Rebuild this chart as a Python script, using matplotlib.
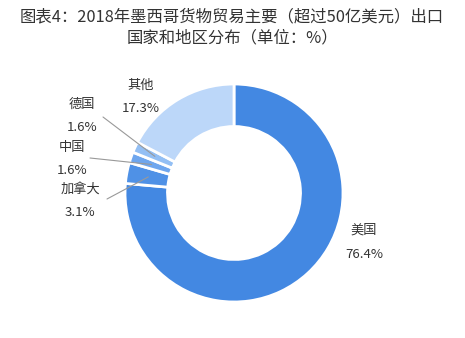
import numpy as np
import matplotlib.pyplot as plt

plt.rcParams['font.family'] = ['Noto Sans CJK SC', 'DejaVu Sans']

# data
regions = ['美国', '加拿大', '中国', '德国', '其他']
shares = [76.4, 3.1, 1.6, 1.6, 17.3]
colors = ['#4388e2', '#4f91e6', '#6ea6ee', '#93bff4', '#bcd7f9']
title_lines = ['图表4：2018年墨西哥货物贸易主要（超过50亿美元）出口',
               '国家和地区分布（单位：%）']

W, H = 465, 338
fig = plt.figure(figsize=(W / 100, H / 100), dpi=100)

# donut axes: centre (234, 193) px, radius 109 px
cx, cy, r = 234, 193, 109
ax = fig.add_axes([(cx - r) / W, (H - cy - r) / H, 2 * r / W, 2 * r / H])
wedges, _ = ax.pie(shares, colors=colors, startangle=90, counterclock=False,
                   radius=1, wedgeprops=dict(width=0.39, edgecolor='white', linewidth=2))
ax.set_xlim(-1, 1)
ax.set_ylim(-1, 1)
ax.axis('off')

to_fig = lambda x, y: (x / W, 1 - y / H)

for line, y in zip(title_lines, [17, 38]):
    fig.text(*to_fig(232, y), line, ha='center', va='center', fontsize=11.8, color='#333333')

# label positions (pixel, top-left origin): name, value
label_pos = {
    '美国': (364, 230),
    '加拿大': (80, 189),
    '中国': (72, 147),
    '德国': (82, 104),
    '其他': (141, 85),
}
# leader line starts (pixel)
leader_start = {
    '加拿大': (107, 199),
    '中国': (90, 158),
    '德国': (103, 117),
}

for w, name, val in zip(wedges, regions, shares):
    lx, ly = label_pos[name]
    fig.text(*to_fig(lx, ly), name, ha='center', va='center', fontsize=9.5, color='#333333')
    fig.text(*to_fig(lx, ly + 24), f'{val}%', ha='center', va='center', fontsize=9.5, color='#333333')
    if name in leader_start:
        ang = np.deg2rad((w.theta1 + w.theta2) / 2)
        xy = (0.8 * np.cos(ang), 0.8 * np.sin(ang))
        ax.annotate('', xy=xy, xycoords='data',
                    xytext=to_fig(*leader_start[name]), textcoords='figure fraction',
                    arrowprops=dict(arrowstyle='-', color='#999999', lw=0.8,
                                    shrinkA=0, shrinkB=0))

fig.savefig('out.png', dpi=100)
